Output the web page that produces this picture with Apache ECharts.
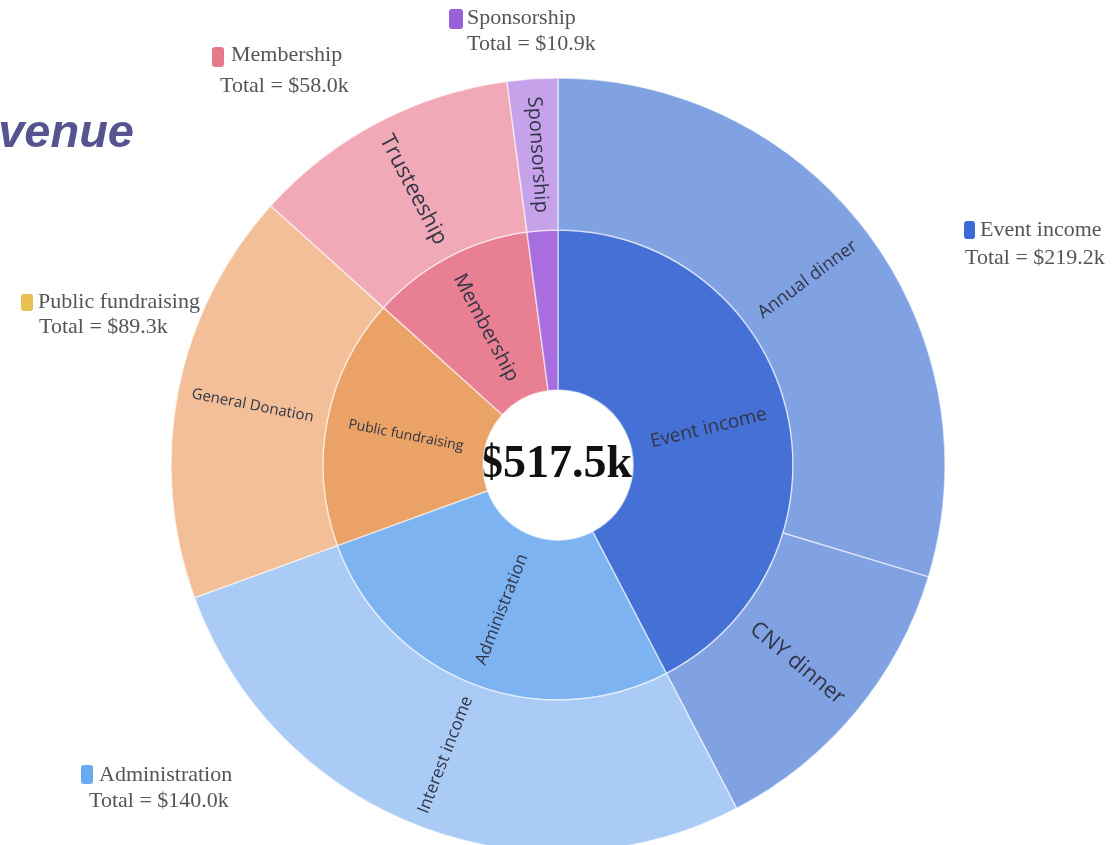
<!DOCTYPE html>
<html>
<head>
<meta charset="utf-8">
<script src="https://cdn.jsdelivr.net/npm/echarts@6/dist/echarts.min.js"></script>
<style>
html,body{margin:0;padding:0;background:#fff;}
#chart{width:1116px;height:845px;}
</style>
</head>
<body>
<div id="chart"></div>
<script>
// ---- data ----
const innerNames = ['Event income', 'Administration', 'Public fundraising', 'Membership', 'Sponsorship'];
const innerTotals = [219.2, 140.0, 89.3, 58.0, 10.9];
const outerNames = [['Annual dinner', 'CNY dinner'], ['Interest income'], ['General Donation'], ['Trusteeship'], ['Sponsorship']];
const outerValues = [[153.5, 65.7], [140.0], [89.3], [58.0], [10.9]];
const grandTotalLabel = '$517.5k';
const titleText = 'Revenue';

// ---- styles ----
const innerColors = ['#4571d6', '#7db3f0', '#eba266', '#e97f92', '#a86ee0'];
const outerColors = [['#80a1e2', '#80a1e2'], ['#a9cbf5'], ['#f2bf98'], ['#f1a9b7'], ['#c6a2ea']];
const legendColors = ['#3d6ad8', '#6aaaf0', '#e8c050', '#e8798c', '#9a60d8'];
const innerLabelSizes = [19, 17, 14, 20, 0];
const outerLabelSizes = [[18, 22], [17], [15], [22], [20]];
// legend layout: [squareX, squareY, squareW, squareH, line1X, line1Y, line2X, line2Y]
const legendLayout = [
  [964, 221, 11, 18, 980, 230, 965, 258],
  [81, 765, 12, 19, 99, 775, 89, 801],
  [21, 294, 12, 17, 38, 302, 39, 327],
  [212, 47, 12, 20, 231, 55, 220, 86],
  [449, 9, 14, 20, 467, 18, 467, 44]
];

const labelColor = '#323546';
const data = innerNames.map((name, i) => ({
  name: name,
  value: innerTotals[i],
  itemStyle: { color: innerColors[i] },
  label: innerLabelSizes[i] ? { fontSize: innerLabelSizes[i] } : { show: false },
  children: outerNames[i].map((cn, j) => ({
    name: cn,
    value: outerValues[i][j],
    itemStyle: { color: outerColors[i][j] },
    label: { fontSize: outerLabelSizes[i][j] }
  }))
}));

const legendGraphics = [];
innerNames.forEach((name, i) => {
  const L = legendLayout[i];
  legendGraphics.push({
    type: 'rect',
    shape: { x: L[0], y: L[1], width: L[2], height: L[3], r: 3 },
    style: { fill: legendColors[i] }
  });
  legendGraphics.push({
    type: 'text', x: L[4], y: L[5],
    style: { text: name, fill: '#555', font: '22px "Liberation Serif", serif', textAlign: 'left', textVerticalAlign: 'middle' }
  });
  legendGraphics.push({
    type: 'text', x: L[6], y: L[7],
    style: { text: 'Total = $' + innerTotals[i].toFixed(1) + 'k', fill: '#555', font: '22px "Liberation Serif", serif', textAlign: 'left', textVerticalAlign: 'middle' }
  });
});

const chart = echarts.init(document.getElementById('chart'));
chart.setOption({
  animation: false,
  backgroundColor: '#fff',
  series: [{
    type: 'sunburst',
    center: [558, 465],
    radius: [75, 387],
    sort: null,
    startAngle: 90,
    clockwise: true,
    nodeClick: false,
    emphasis: { disabled: true },
    data: data,
    label: {
      rotate: 'radial',
      color: labelColor,
      fontFamily: '"Open Sans", sans-serif',
      minAngle: 0
    },
    itemStyle: { borderColor: 'rgba(255,255,255,0.55)', borderWidth: 1.5 },
    levels: [
      {},
      { r0: 75, r: 235 },
      { r0: 235, r: 387 }
    ]
  }],
  graphic: [
    {
      type: 'text', x: 134, y: 134,
      style: { text: titleText, fill: '#555490', font: 'italic bold 47px "Liberation Sans", Arial, sans-serif', textAlign: 'right', textVerticalAlign: 'middle' }
    },
    {
      type: 'text', x: 556, y: 465,
      style: { text: grandTotalLabel, fill: '#111', font: 'bold 46px "Liberation Serif", serif', textAlign: 'center', textVerticalAlign: 'middle' }
    }
  ].concat(legendGraphics)
});
</script>
</body>
</html>
